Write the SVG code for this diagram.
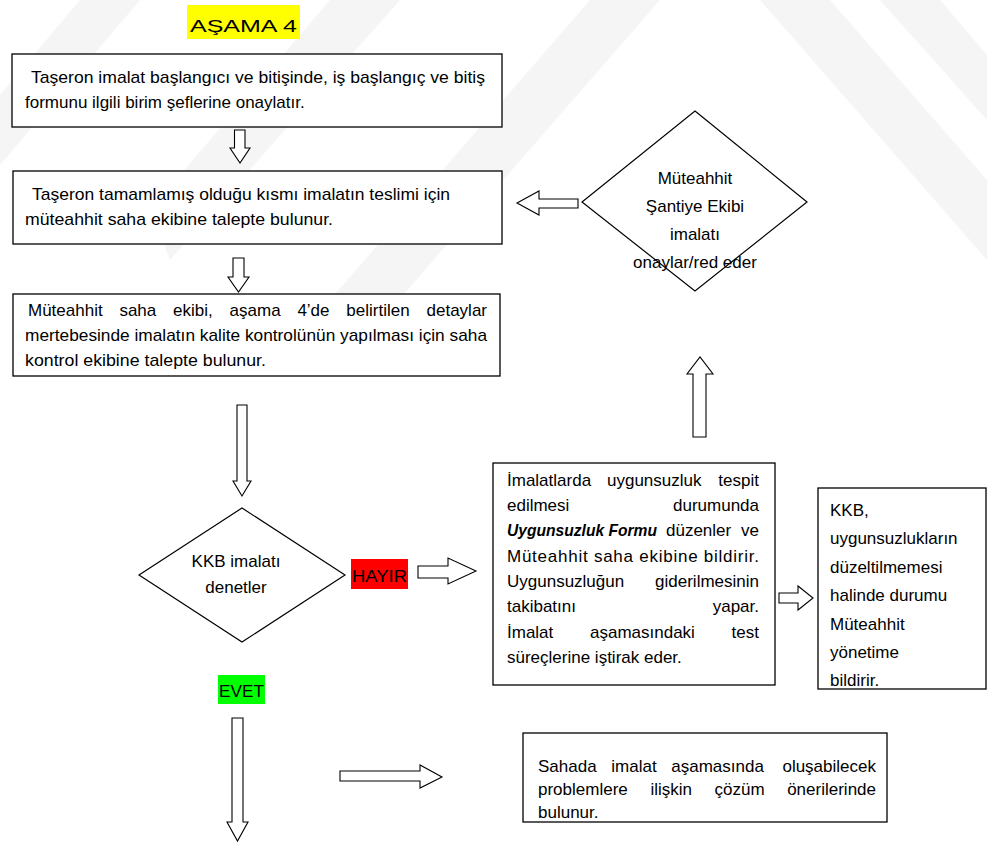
<svg xmlns="http://www.w3.org/2000/svg" width="987" height="844" viewBox="0 0 987 844">
<style>
.box{fill:#fff;stroke:#000;stroke-width:1.3}
.dia{fill:#fff;stroke:#000;stroke-width:1.2}
.arr{fill:#fff;stroke:#000;stroke-width:1.1;stroke-linejoin:miter}
.t{font-family:"Liberation Sans",Arial,sans-serif;font-size:17px;fill:#000}
.c{text-anchor:middle}
.e{text-anchor:end}
.wm{fill:#f5f5f5}
</style>
<rect width="987" height="844" fill="#fff"/>
<g id="watermark">
<polygon class="wm" points="0,95 80,0 140,0 0,165"/>
<polygon class="wm" points="150,210 330,0 400,0 170,260"/>
<polygon class="wm" points="330,300 590,0 660,0 390,310"/>
<polygon class="wm" points="760,0 830,0 987,180 987,260"/>
<polygon class="wm" points="880,0 940,0 987,55 987,120"/>
</g>
<g id="title">
<rect x="187" y="5" width="113" height="34" fill="#ffff00"/>
<text class="t" x="190" y="32" font-size="30" textLength="107" lengthAdjust="spacingAndGlyphs">AŞAMA 4</text>
</g>
<g id="box1">
<rect class="box" x="12" y="54" width="490" height="73"/>
<text class="t" x="31" y="83" textLength="454" lengthAdjust="spacingAndGlyphs">Taşeron imalat başlangıcı ve bitişinde, iş başlangıç ve bitiş</text>
<text class="t" x="25" y="108">formunu ilgili birim şeflerine onaylatır.</text>
</g>
<g id="box2">
<rect class="box" x="13" y="171" width="489" height="73"/>
<text class="t" x="32" y="200" textLength="418" lengthAdjust="spacingAndGlyphs">Taşeron tamamlamış olduğu kısmı imalatın teslimi için</text>
<text class="t" x="25" y="225" textLength="308" lengthAdjust="spacingAndGlyphs">müteahhit saha ekibine talepte bulunur.</text>
</g>
<g id="box3">
<rect class="box" x="13" y="294" width="487" height="82"/>
<text class="t" y="316"><tspan x="28">Müteahhit</tspan><tspan x="119.4">saha</tspan><tspan x="173.1">ekibi,</tspan><tspan x="229.6">aşama</tspan><tspan x="297.4">4’de</tspan><tspan x="346.3">belirtilen</tspan></text>
<text class="t e" x="487" y="316">detaylar</text>
<text class="t" x="25" y="341" textLength="462" lengthAdjust="spacingAndGlyphs">mertebesinde imalatın kalite kontrolünün yapılması için saha</text>
<text class="t" x="25" y="366" textLength="241" lengthAdjust="spacingAndGlyphs">kontrol ekibine talepte bulunur.</text>
</g>
<g id="decision-santiye">
<polygon class="dia" points="695,111 807,202 695,291 582,202"/>
<text class="t c" x="695" y="184">Müteahhit</text>
<text class="t c" x="695" y="212">Şantiye Ekibi</text>
<text class="t c" x="695" y="240">imalatı</text>
<text class="t c" x="695" y="268">onaylar/red eder</text>
</g>
<g id="decision-kkb">
<polygon class="dia" points="242,508 345,575 242,642 139,575"/>
<text class="t c" x="236" y="567">KKB imalatı</text>
<text class="t c" x="236" y="593">denetler</text>
</g>
<g id="label-hayir">
<rect x="351" y="559" width="57" height="30" fill="#ff0000"/>
<text class="t" x="352" y="582" font-size="19" textLength="55" lengthAdjust="spacingAndGlyphs">HAYIR</text>
</g>
<g id="label-evet">
<rect x="218" y="675" width="47" height="29" fill="#00ff00"/>
<text class="t" x="219" y="697" font-size="19" textLength="45" lengthAdjust="spacingAndGlyphs">EVET</text>
</g>
<g id="box4">
<rect class="box" x="493" y="463" width="282" height="222"/>
<text class="t" y="486"><tspan x="507">İmalatlarda</tspan><tspan x="607">uygunsuzluk</tspan></text>
<text class="t e" x="759" y="486">tespit</text>
<text class="t" x="507" y="511">edilmesi</text>
<text class="t e" x="759" y="511">durumunda</text>
<text class="t" x="507" y="536" font-weight="bold" font-style="italic" textLength="150" lengthAdjust="spacingAndGlyphs">Uygunsuzluk Formu</text>
<text class="t" x="666" y="536">düzenler</text>
<text class="t e" x="759" y="536">ve</text>
<text class="t" x="507" y="562" textLength="252">Müteahhit saha ekibine bildirir.</text>
<text class="t" x="507" y="587">Uygunsuzluğun</text>
<text class="t e" x="759" y="587">giderilmesinin</text>
<text class="t" x="507" y="612">takibatını</text>
<text class="t e" x="759" y="612">yapar.</text>
<text class="t" x="507" y="638">İmalat</text>
<text class="t" x="590" y="638">aşamasındaki</text>
<text class="t e" x="759" y="638">test</text>
<text class="t" x="507" y="663">süreçlerine iştirak eder.</text>
</g>
<g id="box5">
<rect class="box" x="818" y="488" width="168" height="201"/>
<text class="t" x="830" y="516">KKB,</text>
<text class="t" x="830" y="544">uygunsuzlukların</text>
<text class="t" x="830" y="573">düzeltilmemesi</text>
<text class="t" x="830" y="601">halinde durumu</text>
<text class="t" x="830" y="630">Müteahhit</text>
<text class="t" x="830" y="658">yönetime</text>
<text class="t" x="830" y="686">bildirir.</text>
</g>
<g id="box6">
<rect class="box" x="523" y="733" width="364" height="89"/>
<text class="t" y="772"><tspan x="538">Sahada</tspan><tspan x="611.3">imalat</tspan><tspan x="671.3">aşamasında</tspan></text>
<text class="t e" x="876" y="772">oluşabilecek</text>
<text class="t" y="795"><tspan x="538">problemlere</tspan><tspan x="650.4">ilişkin</tspan><tspan x="714.6">çözüm</tspan></text>
<text class="t e" x="876" y="795">önerilerinde</text>
<text class="t" x="538" y="818">bulunur.</text>
</g>
<g id="connectors">
<polygon class="arr" points="234.5,130 245,130 245,148 250,148 240,163 230,148 234.5,148"/>
<polygon class="arr" points="233,258 244,258 244,277 249,277 238.5,292 228,277 233,277"/>
<polygon class="arr" points="237,405 247,405 247,481 251,481 242,496 233,481 237,481"/>
<polygon class="arr" points="418,566 448,566 448,558 476,571 448,584 448,578 418,578"/>
<polygon class="arr" points="578,199 539,199 539,191 517,203 539,215 539,208 578,208"/>
<polygon class="arr" points="693,437 693,374 687,374 700,357 713,374 706,374 706,437"/>
<polygon class="arr" points="779,593 798,593 798,586 813,598 798,610 798,603 779,603"/>
<polygon class="arr" points="340,771 420,771 420,765 442,777 420,788 420,781 340,781"/>
<polygon class="arr" points="232,718 243,718 243,822 248,822 237.5,841 227,822 232,822"/>
</g>
</svg>
